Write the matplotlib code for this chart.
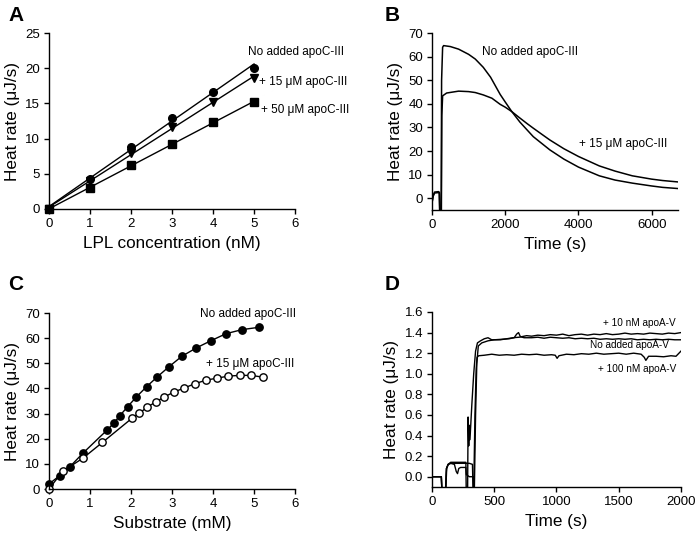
import numpy as np
import matplotlib
matplotlib.use("Agg")
import matplotlib.pyplot as plt

plt.rcParams['font.family'] = ['Liberation Sans', 'DejaVu Sans']

# ---------------- Panel A data ----------------
lpl_nM = [0, 1, 2, 3, 4, 5]
a_none = [0, 4.3, 8.8, 13.0, 16.7, 20.1]
a_15 = [0, 4.0, 8.0, 11.7, 15.2, 18.6]
a_50 = [0, 3.0, 6.2, 9.3, 12.3, 15.2]

# ---------------- Panel B data ----------------
b_t_none = [0, 30, 70, 180, 200, 212, 250, 262, 290, 317, 500, 727, 1000, 1182, 1400,
            1600, 1862, 2000, 2181, 2400, 2600, 2766, 3000, 3218, 3600, 4000, 4569,
            5000, 5471, 5996, 6300, 6720]
b_v_none = [-2.0, 1.0, 2.6, 2.8, 2.5, -9, -9, 50, 64.0, 64.7, 64.3, 63.2, 61.0, 59.0,
            55.5, 51.3, 44.0, 40.8, 36.7, 32.3, 28.9, 26.1, 23.2, 20.5, 16.6, 13.2,
            9.5, 7.7, 6.4, 5.2, 4.6, 4.1]
b_t_15 = [0, 30, 70, 180, 200, 220, 255, 268, 290, 400, 727, 1000, 1182, 1400, 1636,
          1862, 2000, 2181, 2400, 2600, 2766, 3000, 3218, 3600, 4000, 4569, 5000,
          5471, 5996, 6300, 6720]
b_v_15 = [-2.0, 0.8, 2.2, 2.4, 2.0, -9, -9, 35, 43.4, 44.6, 45.4, 45.2, 44.8, 43.8,
          42.4, 39.8, 38.6, 36.7, 34.0, 31.6, 29.7, 27.1, 24.7, 21.0, 17.7, 13.7,
          11.5, 9.5, 8.1, 7.5, 6.9]

# ---------------- Panel C data ----------------
c_x_none = [0, 0.26, 0.5, 0.83, 1.42, 1.58, 1.73, 1.92, 2.13, 2.38, 2.64, 2.93,
            3.24, 3.59, 3.95, 4.32, 4.71, 5.11]
c_y_none = [2.0, 5.3, 8.7, 14.3, 23.5, 26.2, 29.2, 32.8, 36.6, 40.7, 44.6, 48.7,
            52.8, 56.1, 59.0, 61.8, 63.4, 64.3]
c_x_15 = [0, 0.33, 0.83, 1.30, 2.02, 2.20, 2.39, 2.60, 2.81, 3.05, 3.30, 3.56,
          3.83, 4.10, 4.37, 4.65, 4.93, 5.21]
c_y_15 = [0, 7.0, 12.3, 18.5, 28.1, 30.1, 32.5, 34.6, 36.6, 38.6, 40.2, 41.9,
          43.3, 44.1, 44.9, 45.2, 45.2, 44.5]

# ---------------- Panel D data ----------------
d_t_10 = [0, 75, 80, 110, 118, 130, 150, 200, 272, 275, 286, 290, 295, 299, 305,
          320, 335, 350, 365, 390, 420, 450, 480, 550, 600, 650, 700, 760, 800,
          850, 900, 950, 1000, 1050, 1100, 1150, 1200, 1250, 1300, 1350, 1400,
          1450, 1500, 1550, 1600, 1650, 1700, 1750, 1800, 1850, 1900, 1950, 2000]
d_v_10 = [0, 0, -0.15, -0.15, 0.08, 0.12, 0.14, 0.14, 0.14, -0.15, -0.15, 0.58,
          0.30, 0.50, 0.36, 0.70, 1.00, 1.22, 1.30, 1.32, 1.34, 1.35, 1.33, 1.33,
          1.34, 1.35, 1.355, 1.37, 1.365, 1.375, 1.37, 1.38, 1.375, 1.385, 1.37,
          1.38, 1.385, 1.375, 1.385, 1.38, 1.39, 1.38, 1.385, 1.395, 1.385, 1.39,
          1.385, 1.395, 1.39, 1.385, 1.395, 1.39, 1.40]
d_t_none = [0, 75, 80, 108, 116, 130, 150, 272, 300, 325, 330, 340, 350, 360, 372,
            400, 450, 500, 560, 620, 660, 680, 695, 710, 740, 800, 850, 900, 950,
            1000, 1050, 1100, 1150, 1200, 1250, 1300, 1350, 1400, 1450, 1500, 1550,
            1600, 1650, 1700, 1750, 1800, 1850, 1900, 1950, 2000]
d_v_none = [0, 0, -0.15, -0.15, 0.08, 0.12, 0.13, 0.13, 0.13, 0.12, -0.15, -0.15,
            0.60, 1.10, 1.27, 1.30, 1.32, 1.33, 1.335, 1.34, 1.35, 1.385, 1.40,
            1.36, 1.35, 1.35, 1.355, 1.345, 1.355, 1.35, 1.345, 1.35, 1.34, 1.345,
            1.34, 1.345, 1.335, 1.34, 1.335, 1.34, 1.335, 1.34, 1.33, 1.335, 1.33,
            1.335, 1.33, 1.335, 1.33, 1.33]
d_t_100 = [0, 75, 80, 108, 116, 130, 150, 180, 195, 205, 215, 230, 272, 276, 300,
           329, 335, 345, 355, 362, 375, 420, 480, 540, 600, 660, 720, 780, 840,
           900, 960, 990, 1005, 1020, 1080, 1140, 1200, 1260, 1320, 1380, 1440,
           1500, 1560, 1620, 1680, 1705, 1718, 1740, 1800, 1860, 1920, 1960, 2000]
d_v_100 = [0, 0, -0.15, -0.15, 0.08, 0.12, 0.13, 0.12, 0.05, 0.03, 0.08, 0.09,
           0.09, 0.02, 0.0, 0.0, -0.15, 0.60, 1.05, 1.16, 1.175, 1.18, 1.19, 1.18,
           1.185, 1.18, 1.19, 1.185, 1.19, 1.18, 1.185, 1.18, 1.15, 1.175, 1.19,
           1.185, 1.195, 1.19, 1.20, 1.19, 1.195, 1.20, 1.19, 1.20, 1.19, 1.16,
           1.13, 1.17, 1.17, 1.165, 1.175, 1.17, 1.22]

fig = plt.figure(figsize=(6.97, 5.41), dpi=100)

tick_fs = 9.5
lab_fs = 12.3
txt_fs = 8.5

def style(ax):
    ax.spines['top'].set_visible(False)
    ax.spines['right'].set_visible(False)
    for s in ('left', 'bottom'):
        ax.spines[s].set_linewidth(1.0)
    ax.tick_params(direction='out', length=3.5, width=1.0, labelsize=tick_fs, pad=3)

# ---- A ----
axA = fig.add_axes([0.0703, 0.6137, 0.353, 0.325])
style(axA)
xx = np.array(lpl_nM)
for ys, mk in [(a_none, 'o'), (a_15, 'v'), (a_50, 's')]:
    p = np.polyfit(xx, ys, 1)
    axA.plot(xx, np.polyval(p, xx), color='black', lw=1.0)
    axA.plot(xx, ys, linestyle='none', marker=mk, color='black', markersize=5.5, clip_on=False)
axA.set_xlim(0, 6)
axA.set_ylim(0, 25)
axA.set_xticks(range(0, 7))
axA.set_yticks(range(0, 26, 5))
axA.set_xlabel('LPL concentration (nM)', fontsize=lab_fs, labelpad=4)
axA.set_ylabel('Heat rate (μJ/s)', fontsize=lab_fs, labelpad=4)
axA.text(4.85, 22.3, 'No added apoC-III', fontsize=txt_fs, va='center', ha='left', clip_on=False)
axA.text(5.12, 18.0, '+ 15 μM apoC-III', fontsize=txt_fs, va='center', ha='left', clip_on=False)
axA.text(5.17, 14.1, '+ 50 μM apoC-III', fontsize=txt_fs, va='center', ha='left', clip_on=False)

# ---- B ----
axB = fig.add_axes([0.6198, 0.6118, 0.353, 0.327])
style(axB)
axB.plot(b_t_none, b_v_none, color='black', lw=1.1)
axB.plot(b_t_15, b_v_15, color='black', lw=1.1)
axB.set_xlim(0, 6720)
axB.set_ylim(-5, 70)
axB.set_xticks([0, 2000, 4000, 6000])
axB.set_yticks(range(0, 71, 10))
axB.set_xlabel('Time (s)', fontsize=lab_fs, labelpad=4)
axB.set_ylabel('Heat rate (μJ/s)', fontsize=lab_fs, labelpad=4)
axB.text(1370, 62, 'No added apoC-III', fontsize=txt_fs, va='center', ha='left')
axB.text(4020, 23, '+ 15 μM apoC-III', fontsize=txt_fs, va='center', ha='left')

# ---- C ----
axC = fig.add_axes([0.0703, 0.0961, 0.353, 0.3253])
style(axC)
axC.plot(c_x_none, c_y_none, color='black', lw=1.0, marker='o', markersize=5.3,
         markerfacecolor='black', markeredgecolor='black', clip_on=False)
axC.plot(c_x_15, c_y_15, color='black', lw=1.0, marker='o', markersize=5.3,
         markerfacecolor='white', markeredgecolor='black', markeredgewidth=1.0, clip_on=False)
axC.set_xlim(0, 6)
axC.set_ylim(0, 70)
axC.set_xticks(range(0, 7))
axC.set_yticks(range(0, 71, 10))
axC.set_xlabel('Substrate (mM)', fontsize=lab_fs, labelpad=4)
axC.set_ylabel('Heat rate (μJ/s)', fontsize=lab_fs, labelpad=4)
axC.text(3.68, 69.5, 'No added apoC-III', fontsize=txt_fs, va='center', ha='left', clip_on=False)
axC.text(3.82, 49.9, '+ 15 μM apoC-III', fontsize=txt_fs, va='center', ha='left')

# ---- D ----
axD = fig.add_axes([0.6198, 0.0998, 0.3572, 0.3235])
style(axD)
axD.plot(d_t_10, d_v_10, color='black', lw=1.0)
axD.plot(d_t_none, d_v_none, color='black', lw=1.0)
axD.plot(d_t_100, d_v_100, color='black', lw=1.0)
axD.set_xlim(0, 2000)
axD.set_ylim(-0.1, 1.6)
axD.set_xticks([0, 500, 1000, 1500, 2000])
yt = np.arange(0, 1.61, 0.2)
axD.set_yticks(yt)
axD.set_yticklabels(['%.1f' % v for v in yt])
axD.set_xlabel('Time (s)', fontsize=lab_fs, labelpad=4)
axD.set_ylabel('Heat rate (μJ/s)', fontsize=lab_fs, labelpad=4)
dfs = 7.2
axD.text(1955, 1.49, '+ 10 nM apoA-V', fontsize=dfs, va='center', ha='right')
axD.text(1905, 1.276, 'No added apoA-V', fontsize=dfs, va='center', ha='right')
axD.text(1965, 1.046, '+ 100 nM apoA-V', fontsize=dfs, va='center', ha='right')

# panel letters
for lbl, x, y in [('A', 0.012, 0.972), ('B', 0.552, 0.972), ('C', 0.012, 0.474), ('D', 0.552, 0.474)]:
    fig.text(x, y, lbl, fontsize=15, fontweight='bold', va='center', ha='left')

fig.savefig('out.png', dpi=100)
